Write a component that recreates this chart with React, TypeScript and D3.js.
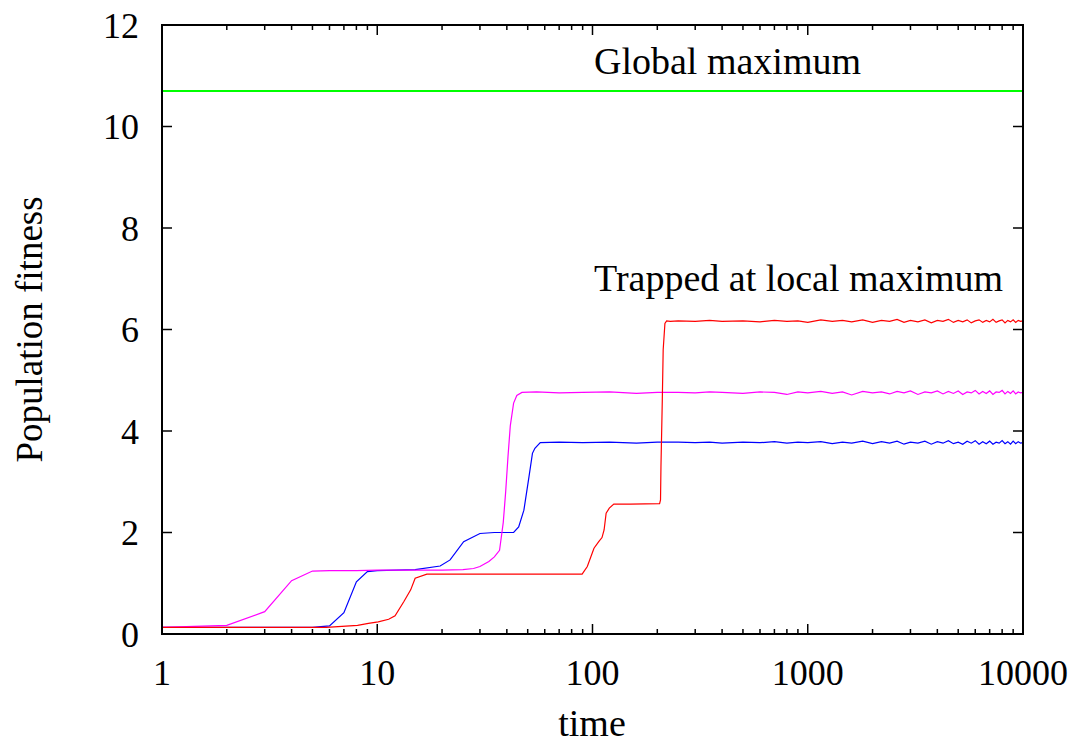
import React from 'react'
import * as d3 from 'd3'

// y axis ticks and x decades
const fitnessTicks = [0, 2, 4, 6, 8, 10, 12]
const timeTicks = [1, 10, 100, 1000, 10000]
const globalMax = 10.7

// shared times of the noisy plateau tail
const tailTimes = [250, 300, 350, 400, 500, 600, 700, 800, 900, 1000, 1150, 1300, 1450, 1600,
  1800, 2000, 2200, 2400, 2600, 2800, 3000, 3250, 3500, 3750, 4000, 4250, 4500, 4750, 5000,
  5250, 5500, 5750, 6000, 6250, 6500, 6750, 7000, 7250, 7500, 7750, 8000, 8250, 8500, 8750,
  9000, 9250, 9500, 9750, 10000]

// magenta run
const magentaTime = [1, 2, 3, 4, 5, 6, 8, 10, 15, 20, 25, 28, 30, 33, 35, 37, 38.5, 39.5, 40.5, 41.5, 43, 44.5, 47, 55, 70, 90, 120, 160, 200]
const magentaFit = [0.13, 0.17, 0.44, 1.05, 1.24, 1.25, 1.25, 1.26, 1.26, 1.26, 1.27, 1.29, 1.33, 1.43, 1.52, 1.65, 2.2, 2.8, 3.5, 4.1, 4.55, 4.7, 4.76, 4.77, 4.75, 4.76, 4.77, 4.74, 4.76]
const magentaTail = [4.76, 4.75, 4.77, 4.76, 4.74, 4.77, 4.76, 4.72, 4.77, 4.75, 4.78, 4.74, 4.77, 4.71,
  4.78, 4.75, 4.77, 4.73, 4.78, 4.75, 4.79, 4.72, 4.77, 4.75, 4.79, 4.73, 4.78, 4.74, 4.79,
  4.72, 4.77, 4.75, 4.80, 4.73, 4.78, 4.74, 4.79, 4.72, 4.77, 4.76, 4.80, 4.73, 4.78, 4.74,
  4.79, 4.73, 4.77, 4.75, 4.76]

// blue run
const blueTime = [1, 3, 5, 6, 7, 8, 9, 10, 15, 19.6, 21.8, 25.2, 30, 35, 43, 45.4, 48, 50.7, 52.6, 54, 57.2, 70, 90, 120, 160, 200]
const blueFit = [0.13, 0.13, 0.13, 0.16, 0.42, 1.03, 1.23, 1.25, 1.27, 1.34, 1.46, 1.82, 1.98, 2.0, 2.0, 2.11, 2.44, 3.1, 3.56, 3.66, 3.77, 3.78, 3.77, 3.78, 3.76, 3.78]
const blueTail = [3.78, 3.77, 3.78, 3.76, 3.78, 3.77, 3.79, 3.76, 3.78, 3.77, 3.79, 3.75, 3.78, 3.76,
  3.80, 3.75, 3.79, 3.76, 3.80, 3.74, 3.78, 3.76, 3.80, 3.74, 3.79, 3.76, 3.81, 3.75, 3.78,
  3.74, 3.80, 3.76, 3.81, 3.74, 3.79, 3.75, 3.80, 3.74, 3.78, 3.76, 3.81, 3.75, 3.79, 3.74,
  3.80, 3.75, 3.79, 3.76, 3.77]

// red run
const redTime = [1, 5.8, 8.1, 9.1, 10.1, 11.3, 12.1, 13.3, 14.3, 15, 17, 30, 50, 89.5, 94.6, 101.6, 106.9, 110.7, 113.2, 115.7, 119.7, 125.6, 150, 205, 207, 208, 211, 213, 217, 221, 230]
const redFit = [0.13, 0.13, 0.17, 0.21, 0.24, 0.29, 0.36, 0.64, 0.87, 1.1, 1.18, 1.18, 1.18, 1.18, 1.33, 1.69, 1.82, 1.9, 2.05, 2.38, 2.48, 2.56, 2.56, 2.57, 2.64, 3.3, 4.61, 5.6, 6.12, 6.17, 6.16]
const redTail = [6.17, 6.16, 6.18, 6.16, 6.17, 6.15, 6.18, 6.16, 6.17, 6.14, 6.19, 6.16, 6.18, 6.15,
  6.19, 6.14, 6.18, 6.16, 6.20, 6.14, 6.18, 6.15, 6.19, 6.13, 6.18, 6.16, 6.20, 6.14, 6.18,
  6.15, 6.19, 6.13, 6.17, 6.19, 6.14, 6.18, 6.15, 6.20, 6.14, 6.17, 6.19, 6.13, 6.18, 6.15,
  6.19, 6.14, 6.18, 6.16, 6.17]

const font = '"Liberation Serif", "Times New Roman", serif'

const left = 162, right = 1023, top = 25, bottom = 634

function toPoints(times: number[], fits: number[]) {
  return times.map((t, i) => [t, fits[i]] as [number, number])
}

export default function App() {
  const x = d3.scaleLog().domain([1, 10000]).range([left, right])
  const y = d3.scaleLinear().domain([0, 12]).range([bottom, top])
  const line = d3.line<[number, number]>().x(d => x(d[0])).y(d => y(d[1]))

  const series = [
    { color: '#0000ff', pts: toPoints(blueTime, blueFit).concat(toPoints(tailTimes, blueTail)) },
    { color: '#ff00ff', pts: toPoints(magentaTime, magentaFit).concat(toPoints(tailTimes, magentaTail)) },
    { color: '#ff0000', pts: toPoints(redTime, redFit).concat(toPoints(tailTimes, redTail)) },
  ]

  const minor: number[] = []
  for (let d = 1; d < 10000; d *= 10) {
    for (let k = 2; k <= 9; k++) minor.push(d * k)
  }

  return (
    <svg width={1081} height={744} style={{ display: 'block', margin: '-8px' }} fontFamily={font}>
      <rect width={1081} height={744} fill="#fff" />
      <line x1={left} x2={right} y1={y(globalMax)} y2={y(globalMax)} stroke="#00ff00" strokeWidth={2} />
      {series.map((s, i) => (
        <path key={i} d={line(s.pts) || ''} fill="none" stroke={s.color} strokeWidth={1.2} />
      ))}
      {/* y ticks, both sides */}
      {fitnessTicks.map(v => (
        <g key={'y' + v}>
          <line x1={left} x2={left + 10} y1={y(v)} y2={y(v)} stroke="#000" strokeWidth={1.5} />
          <line x1={right} x2={right - 10} y1={y(v)} y2={y(v)} stroke="#000" strokeWidth={1.5} />
          <text x={139} y={y(v) + 12.5} textAnchor="end" fontSize={36}>{v}</text>
        </g>
      ))}
      {/* x ticks, bottom and top */}
      {timeTicks.map(v => (
        <g key={'x' + v}>
          <line x1={x(v)} x2={x(v)} y1={bottom} y2={bottom - 10} stroke="#000" strokeWidth={1.5} />
          <line x1={x(v)} x2={x(v)} y1={top} y2={top + 10} stroke="#000" strokeWidth={1.5} />
          <text x={x(v)} y={685} textAnchor="middle" fontSize={36}>{v}</text>
        </g>
      ))}
      {minor.map(v => (
        <g key={'m' + v}>
          <line x1={x(v)} x2={x(v)} y1={bottom} y2={bottom - 5} stroke="#000" strokeWidth={1.5} />
          <line x1={x(v)} x2={x(v)} y1={top} y2={top + 5} stroke="#000" strokeWidth={1.5} />
        </g>
      ))}
      <rect x={left} y={top} width={right - left} height={bottom - top} fill="none" stroke="#000" strokeWidth={2} />
      <text x={594} y={74} fontSize={38}>Global maximum</text>
      <text x={594} y={291} fontSize={38}>Trapped at local maximum</text>
      <text x={592} y={736} textAnchor="middle" fontSize={38}>time</text>
      <text transform={`translate(42,${(top + bottom) / 2}) rotate(-90)`} textAnchor="middle" fontSize={37}>Population fitness</text>
    </svg>
  )
}
